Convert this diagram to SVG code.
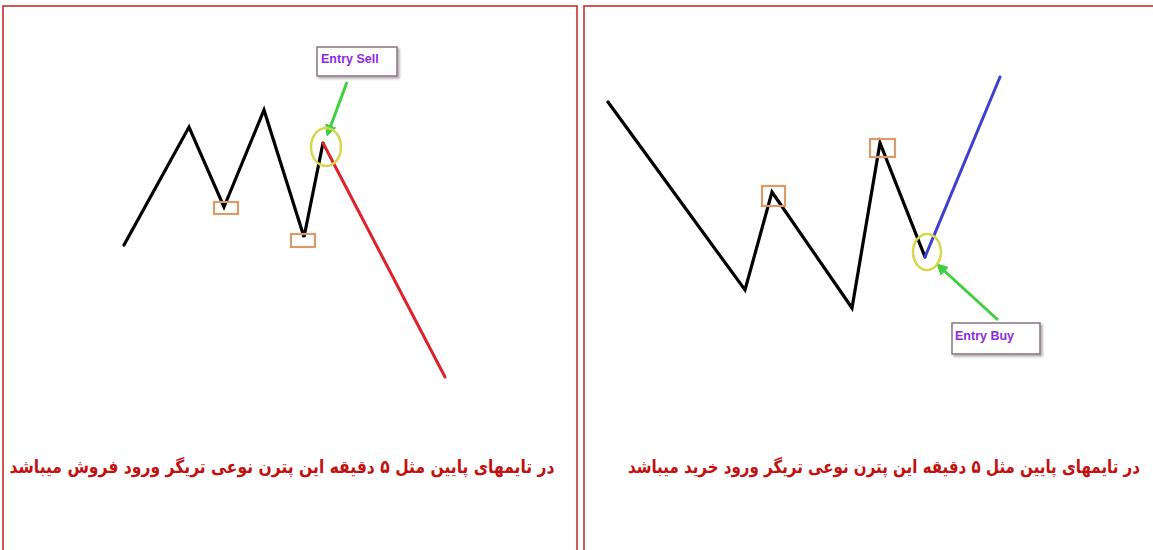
<svg xmlns="http://www.w3.org/2000/svg" width="1153" height="550" viewBox="0 0 1153 550">
<defs>
<marker id="ah" markerWidth="12" markerHeight="12" refX="8" refY="6" orient="auto" markerUnits="userSpaceOnUse">
<path d="M0,0 L12,6 L0,12 z" fill="#3fcf3f"/>
</marker>
<filter id="sh" x="-20%" y="-20%" width="150%" height="160%">
<feDropShadow dx="2" dy="2" stdDeviation="1.2" flood-color="#000" flood-opacity="0.3"/>
</filter>
</defs>
<style>
.frame{fill:#fff;stroke:#c43030;stroke-width:1.6}
.zz{fill:none;stroke:#000;stroke-width:3.2;stroke-linejoin:miter;stroke-linecap:round}
.mark{fill:none;stroke:#d99a6c;stroke-width:2.2}
.ring{fill:none;stroke:#d6d64e;stroke-width:2.5}
.ptr{stroke:#3fcf3f;stroke-width:3;fill:none}
.call{fill:#fff;stroke:#8c7082;stroke-width:1.5}
.ctext{font-family:"Liberation Sans",Arial,sans-serif;font-weight:bold;font-size:12.5px;fill:#8a2be2}
.fa{font-family:"DejaVu Sans",sans-serif;font-weight:bold;font-size:18px;fill:#c21010}
</style>
<rect width="1153" height="550" fill="#fff"/>
<g id="frame-left"><rect class="frame" x="3" y="6" width="574" height="570"/></g>
<g id="frame-right"><rect class="frame" x="584" y="6" width="590" height="570"/></g>

<g id="connectors">
<polyline class="zz" points="124,245 189,127 224,207 264,110 304,237 323,143"/>
<line x1="323" y1="143" x2="445" y2="377" stroke="#e0202a" stroke-width="3" stroke-linecap="round"/>
<polyline class="zz" points="608,102 745,290 772,192 852,308 880,143 925,257"/>
<line x1="925" y1="257" x2="1000" y2="77" stroke="#3f3fcf" stroke-width="3" stroke-linecap="round"/>
<line class="ptr" x1="347" y1="82" x2="328" y2="133" marker-end="url(#ah)"/>
<line class="ptr" x1="998" y1="320" x2="939" y2="266" marker-end="url(#ah)"/>
</g>

<g id="marks-left">
<rect class="mark" x="214" y="202" width="24" height="12"/>
<rect class="mark" x="291" y="234" width="24" height="13"/>
<ellipse class="ring" cx="326" cy="147" rx="15" ry="19"/>
</g>
<g id="marks-right">
<rect class="mark" x="762" y="186" width="23" height="20"/>
<rect class="mark" x="870" y="139" width="25" height="18"/>
<ellipse class="ring" cx="927" cy="252" rx="14" ry="18"/>
</g>

<g id="entry-sell">
<rect class="call" x="317" y="47" width="80" height="29" filter="url(#sh)"/>
<text class="ctext" x="321" y="63">Entry Sell</text>
</g>
<g id="entry-buy">
<rect class="call" x="952" y="323" width="88" height="31" filter="url(#sh)"/>
<text class="ctext" x="955" y="340">Entry Buy</text>
</g>

<g id="caption-left">
<text class="fa" x="282" y="473" text-anchor="middle" direction="rtl" textLength="545" lengthAdjust="spacingAndGlyphs">در تایمهای پایین مثل ۵ دقیقه این پترن نوعی تریگر ورود فروش میباشد</text>
</g>
<g id="caption-right">
<text class="fa" x="884" y="473" text-anchor="middle" direction="rtl" textLength="512" lengthAdjust="spacingAndGlyphs">در تایمهای پایین مثل ۵ دقیقه این پترن نوعی تریگر ورود خرید میباشد</text>
</g>
</svg>
